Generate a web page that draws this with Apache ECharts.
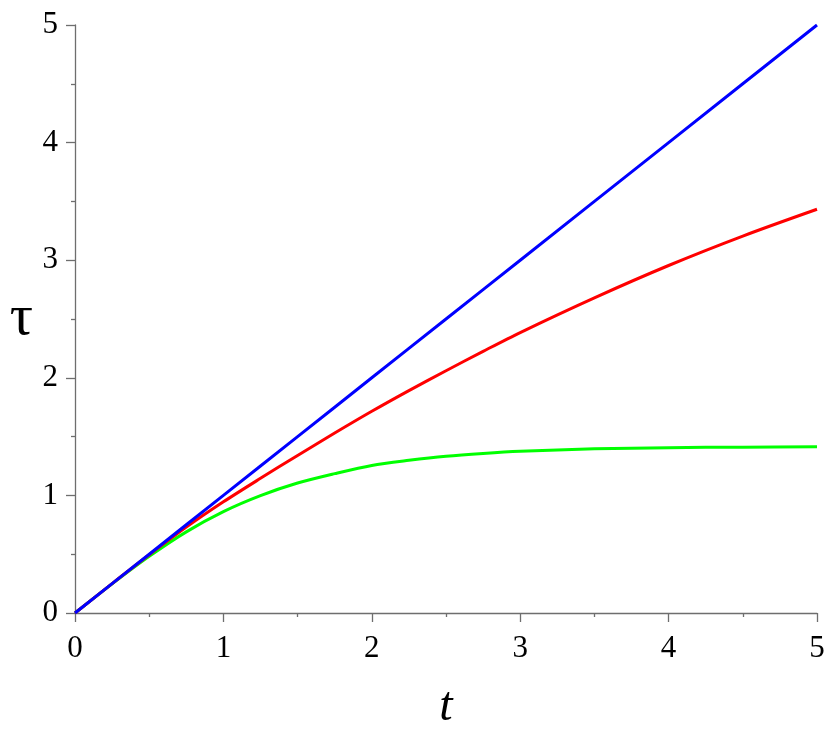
<!DOCTYPE html>
<html>
<head>
<meta charset="utf-8">
<script src="https://cdn.jsdelivr.net/npm/echarts@6/dist/echarts.min.js"></script>
<style>html,body{margin:0;padding:0;background:#fff}#c{width:830px;height:735px}</style>
</head>
<body>
<div id="c"></div>
<script>
const tValues = [0, 0.25, 0.5, 0.75, 1, 1.25, 1.5, 1.75, 2, 2.25, 2.5, 2.75, 3, 3.5, 4, 4.5, 5];
const blueValues = [0, 0.25, 0.5, 0.75, 1, 1.25, 1.5, 1.75, 2, 2.25, 2.5, 2.75, 3, 3.5, 4, 4.5, 5];
const redValues = [0, 0.25, 0.495, 0.73, 0.945, 1.145, 1.34, 1.53, 1.715, 1.891, 2.06, 2.225, 2.385, 2.68, 2.955, 3.205, 3.433];
const greenValues = [0, 0.248, 0.482, 0.69, 0.862, 0.998, 1.105, 1.185, 1.255, 1.298, 1.333, 1.357, 1.375, 1.396, 1.406, 1.41, 1.413];
const xTicks = [0, 1, 2, 3, 4, 5];
const yTicks = [0, 1, 2, 3, 4, 5];

const pair = (xs, ys) => xs.map((x, i) => [x, ys[i]]);
const axisColor = '#6e6e6e';
const axisCommon = {
  min: 0, max: 5, interval: 1,
  axisLine: { show: true, onZero: false, lineStyle: { color: axisColor, width: 1.3 } },
  axisTick: { show: true, length: 9, lineStyle: { color: axisColor, width: 1.3 } },
  minorTick: { show: true, splitNumber: 2, length: 4, lineStyle: { color: axisColor, width: 1.3 } },
  splitLine: { show: false },
  axisLabel: { color: '#000', fontFamily: 'Liberation Serif', fontSize: 31 }
};
const chart = echarts.init(document.getElementById('c'));
chart.setOption({
  animation: false,
  backgroundColor: '#fff',
  grid: { left: 75, right: 13, top: 25, bottom: 122, containLabel: false, outerBoundsMode: 'none' },
  xAxis: Object.assign({}, axisCommon, {
    type: 'value',
    name: 't', nameLocation: 'middle', nameGap: 70,
    nameTextStyle: { fontFamily: 'Liberation Serif', fontStyle: 'italic', fontSize: 48, color: '#000' },
    axisLabel: Object.assign({}, axisCommon.axisLabel, { margin: 20, formatter: v => xTicks.includes(v) ? String(v) : '' })
  }),
  yAxis: Object.assign({}, axisCommon, {
    type: 'value',
    name: 'τ', nameLocation: 'middle', nameGap: 42, nameRotate: 0,
    nameTextStyle: { fontFamily: 'Liberation Serif', fontSize: 58, color: '#000', padding: [16, 0, 0, 0] },
    axisLabel: Object.assign({}, axisCommon.axisLabel, { margin: 17, formatter: v => yTicks.includes(v) ? String(v) : '' })
  }),
  series: [
    { type: 'line', data: pair(tValues, greenValues), smooth: 0.3, showSymbol: false, lineStyle: { color: '#00ff00', width: 3 } },
    { type: 'line', data: pair(tValues, redValues), smooth: 0.3, showSymbol: false, lineStyle: { color: '#ff0000', width: 3 } },
    { type: 'line', data: pair(tValues, blueValues), smooth: false, showSymbol: false, lineStyle: { color: '#0000ff', width: 3 } }
  ]
});
</script>
</body>
</html>
